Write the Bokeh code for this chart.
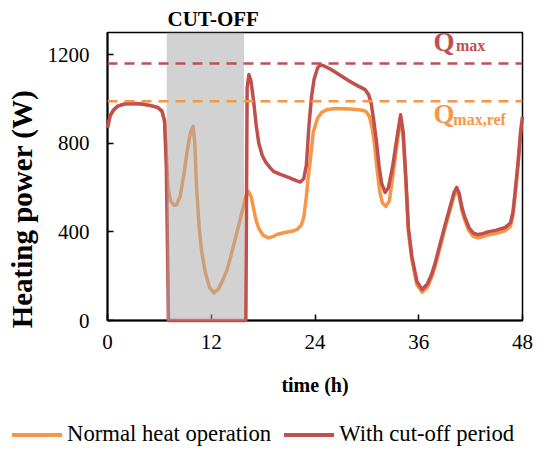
from bokeh.plotting import figure
from bokeh.layouts import column
from bokeh.models import (Range1d, FixedTicker, BoxAnnotation, Span, Label,
                          Title, Div)
from bokeh.embed import file_html
from bokeh.resources import INLINE

# ---------------- data ----------------
hours_normal = [0, 0.3, 0.7, 1.2, 2.0, 3.0, 4.0, 5.0, 5.8, 6.3, 6.6, 6.8, 7.0,
                7.3, 7.7, 8.0, 8.4, 8.8, 9.2, 9.6, 9.9, 10.1, 10.3, 10.6, 10.9,
                11.3, 11.8, 12.3, 12.8, 13.3, 13.8, 14.4, 15.0, 15.5, 16.0,
                16.3, 16.6, 16.9, 17.2, 17.5, 18.0, 18.6, 19.2, 19.6, 20.5,
                21.3, 21.9, 22.4, 22.7, 23.0, 23.2, 23.5, 23.8, 24.3, 24.8,
                25.4, 26.5, 28.0, 29.3, 29.9, 30.3, 30.6, 30.9, 31.2, 31.5,
                31.8, 32.2, 32.6, 33.0, 33.5, 33.9, 34.2, 34.5, 34.8, 35.2,
                35.8, 36.4, 37.0, 37.5, 37.9, 38.5, 39.0, 39.6, 40.1, 40.4,
                40.7, 41.0, 41.3, 41.8, 42.3, 42.8, 43.2, 44.0, 45.0, 46.0,
                46.6, 46.9, 47.2, 47.5, 47.8, 48.0]
power_normal = [870, 925, 950, 968, 978, 980, 977, 970, 962, 945, 900, 750, 600,
                540, 520, 523, 560, 650, 760, 850, 876, 800, 600, 420, 310,
                220, 150, 125, 140, 180, 225, 310, 403, 480, 560,
                583, 560, 505, 450, 415, 385, 373, 380, 388, 397,
                403, 410, 430, 465, 560, 640, 740, 850, 914, 940,
                952, 957, 955, 950, 944, 920, 870, 790, 673, 580,
                530, 515, 540, 650, 800, 910, 830, 630, 400, 275,
                160, 128, 150, 195, 245, 335, 410, 495, 565, 588,
                555, 495, 455, 405, 380, 373, 376, 386, 394, 405,
                425, 475, 585, 705, 845, 905]

hours_cutoff = [0, 0.3, 0.7, 1.2, 2.0, 3.0, 4.0, 5.0, 5.8, 6.3, 6.6, 6.8, 6.95,
                7.05, 16.0, 16.15, 16.35, 16.6, 16.9, 17.2, 17.5, 17.9, 18.3,
                18.8, 19.2, 20.0, 21.0, 21.9, 22.3, 22.7, 23.0, 23.3, 23.6,
                23.9, 24.3, 24.6, 25.0, 26.0, 27.0, 28.0, 29.0, 29.8, 30.2,
                30.5, 30.8, 31.1, 31.4, 31.7, 32.1, 32.5, 33.0, 33.5, 33.9,
                34.2, 34.5, 34.8, 35.2, 35.8, 36.4, 37.0, 37.5, 37.9, 38.5,
                39.0, 39.6, 40.1, 40.4, 40.7, 41.0, 41.3, 41.8, 42.3, 42.8,
                43.2, 44.0, 45.0, 46.0, 46.6, 46.9, 47.2, 47.5, 47.8, 48.0]
power_cutoff = [870, 925, 950, 968, 978, 980, 977, 970, 962, 945, 900, 700, 300,
                0, 0, 1050, 1110, 1080, 990, 880, 800, 745, 715,
                690, 673, 660, 645, 630, 625, 640, 700, 880, 1010,
                1090, 1140, 1154, 1150, 1130, 1105, 1080, 1058, 1042, 1020,
                980, 900, 810, 700, 620, 578, 600, 700, 830, 929,
                850, 650, 420, 290, 175, 140, 165, 210, 260, 350,
                425, 510, 580, 601, 570, 510, 470, 420, 395, 388,
                390, 400, 408, 420, 440, 490, 600, 720, 860, 920]

cutoff_start = 6.85
cutoff_end = 15.8
q_max = 1160
q_max_ref = 990
x_ticks = [0, 12, 24, 36, 48]
y_ticks = [0, 400, 800, 1200]
legend_labels = ["Normal heat operation", "With cut-off period"]

RED = "#C0504D"
ORANGE = "#F79646"
FONT = "Liberation Serif"

p = figure(width=553, height=410, output_backend="svg", toolbar_location=None,
           x_range=Range1d(0, 48), y_range=Range1d(0, 1300),
           min_border_left=107, min_border_right=31, min_border_top=32,
           min_border_bottom=90)
p.grid.visible = False
p.outline_line_color = "black"
p.outline_line_width = 1.5
p.background_fill_color = "white"
p.border_fill_color = "white"

p.title = Title(text="CUT-OFF", align="left", offset=60, standoff=4,
                text_font=FONT, text_font_style="bold", text_font_size="21px",
                text_color="black")

for ax in (p.xaxis[0], p.yaxis[0]):
    ax.axis_line_width = 2
    ax.axis_line_color = "black"
    ax.major_tick_in = 6
    ax.major_tick_out = 0
    ax.minor_tick_in = 0
    ax.minor_tick_out = 0
    ax.major_tick_line_width = 1.5
    ax.major_label_text_font = FONT
    ax.major_label_text_font_size = "21px"
    ax.major_label_text_color = "black"
    ax.axis_label_text_font = FONT
    ax.axis_label_text_font_style = "bold"
    ax.axis_label_text_color = "black"

p.xaxis[0].ticker = FixedTicker(ticks=x_ticks)
p.yaxis[0].ticker = FixedTicker(ticks=y_ticks)
p.xaxis[0].axis_label = "time (h)"
p.yaxis[0].axis_label = "Heating power (W)" + "\u00a0" * 9
p.xaxis[0].axis_label_text_font_size = "20px"
p.yaxis[0].axis_label_text_font_size = "29px"
p.xaxis[0].major_label_standoff = 14
p.yaxis[0].major_label_standoff = 18
p.xaxis[0].axis_label_standoff = 22
p.yaxis[0].axis_label_standoff = 7

p.line(hours_normal, power_normal, line_color=ORANGE, line_width=3.5,
       line_join="round")
p.line(hours_cutoff, power_cutoff, line_color=RED, line_width=3.5,
       line_join="round", level="annotation")

box = BoxAnnotation(left=cutoff_start, right=cutoff_end, fill_color="#A6A6A6",
                    fill_alpha=0.5, line_alpha=0)
p.add_layout(box)

p.add_layout(Span(location=q_max, dimension="width", line_color=RED,
                  line_width=2.5, line_dash="10 7"))
p.add_layout(Span(location=q_max_ref, dimension="width", line_color=ORANGE,
                  line_width=2.5, line_dash="10 7"))

p.add_layout(Label(x=37.7, y=1258, text="Q", text_font=FONT,
                   text_font_style="bold", text_font_size="27px",
                   text_color=RED, text_baseline="alphabetic"))
p.add_layout(Label(x=40.3, y=1242, text="max", text_font=FONT,
                   text_font_style="bold", text_font_size="16px",
                   text_color=RED, text_baseline="alphabetic"))
p.add_layout(Label(x=37.7, y=930, text="Q", text_font=FONT,
                   text_font_style="bold", text_font_size="27px",
                   text_color=ORANGE, text_baseline="alphabetic"))
p.add_layout(Label(x=40.0, y=907, text="max,ref", text_font=FONT,
                   text_font_style="bold", text_font_size="16px",
                   text_color=ORANGE, text_baseline="alphabetic"))

# ---- legend strip (HTML) ----
def swatch(color, left):
    return ('<span style="display:inline-block;width:50px;height:0;'
            f'border-top:4px solid {color};vertical-align:middle;'
            f'margin-left:{left}px;margin-top:-2px"></span>')

legend_html = (
    '<div style="font-family:\'Liberation Serif\',serif;font-size:22.7px;'
    'line-height:26px;white-space:nowrap;padding-top:11px;padding-left:12px;'
    'color:black;background:white;">'
    + swatch(ORANGE, 0)
    + f'<span style="margin-left:5px">{legend_labels[0]}</span>'
    + swatch(RED, 13)
    + f'<span style="margin-left:5px">{legend_labels[1]}</span>'
    + '</div>'
)
lg = Div(text=legend_html, width=553, height=42, margin=0)

layout = column(p, lg, spacing=0)
open("out.html", "w").write(file_html(layout, INLINE))
